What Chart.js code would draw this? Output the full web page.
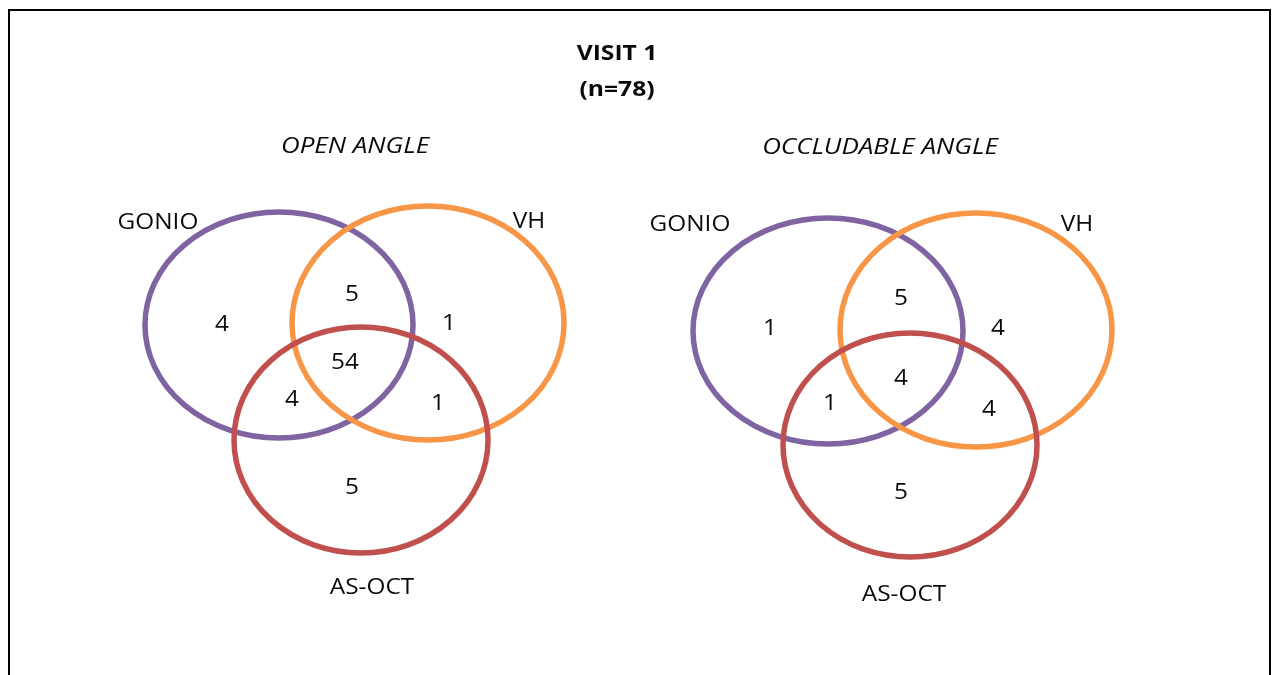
<!DOCTYPE html>
<html>
<head>
<meta charset="utf-8">
<script src="https://cdn.jsdelivr.net/npm/chart.js@4.4.1/dist/chart.umd.min.js"></script>
<style>
  html, body { margin: 0; padding: 0; background: #fff; overflow: hidden; }
  #wrap { position: absolute; left: 0; top: 0; width: 1274px; height: 675px; }
</style>
</head>
<body>
<div id="wrap"><canvas id="venn"></canvas></div>
<script>
// data
var title = ['VISIT 1', '(n=78)'];
var panels = ['OPEN ANGLE', 'OCCLUDABLE ANGLE'];
var sets = ['GONIO', 'VH', 'AS-OCT'];
// regions: G only, G&V, V only, G&V&A, G&A, V&A, A only
var regions = ['G', 'GV', 'V', 'GVA', 'GA', 'VA', 'A'];
var openAngle = [4, 5, 1, 54, 4, 1, 5];
var occludableAngle = [1, 5, 4, 4, 1, 4, 5];
var counts = [openAngle, occludableAngle];

// layout (page units, y down)
var setColors = ['#8064A2', '#F79646', '#C0504D'];
var ellipses = [
  [[279, 325, 134, 113], [428, 323, 136, 117], [361, 440, 127, 113]],
  [[828, 331, 135, 113], [976, 330, 136, 117], [910, 445, 127, 112]]
];
var regionPos = [
  [[222, 325], [352, 295], [449, 324], [345, 363], [292, 400], [438, 404], [352, 488]],
  [[770, 329], [901, 299], [998, 329], [901, 379], [830, 404], [989, 410], [901, 493]]
];
var setLabelPos = [
  [[158, 223], [529, 222], [372, 588]],
  [[690, 225], [1077, 225], [904, 595]]
];
var panelTitlePos = [[355, 147], [880, 148]];
var titlePos = [[617, 54], [617, 90]];

var FONT = '"Open Sans", sans-serif';
var STRETCH = 1.16;

var vennPlugin = {
  id: 'venn',
  beforeDatasetsDraw: function(chart) {
    var ctx = chart.ctx, xs = chart.scales.x, ys = chart.scales.y;
    ctx.save();
    // frame
    ctx.strokeStyle = '#000';
    ctx.lineWidth = 2;
    ctx.beginPath();
    ctx.moveTo(xs.getPixelForValue(9), ys.getPixelForValue(700));
    ctx.lineTo(xs.getPixelForValue(9), ys.getPixelForValue(10));
    ctx.lineTo(xs.getPixelForValue(1270), ys.getPixelForValue(10));
    ctx.lineTo(xs.getPixelForValue(1270), ys.getPixelForValue(700));
    ctx.stroke();
    // ellipses
    ctx.lineWidth = 5.5;
    for (var p = 0; p < ellipses.length; p++) {
      for (var s = 0; s < ellipses[p].length; s++) {
        var e = ellipses[p][s];
        var cx = xs.getPixelForValue(e[0]), cy = ys.getPixelForValue(e[1]);
        var rx = Math.abs(xs.getPixelForValue(e[0] + e[2]) - cx);
        var ry = Math.abs(ys.getPixelForValue(e[1] + e[3]) - cy);
        ctx.strokeStyle = setColors[s];
        ctx.beginPath();
        ctx.ellipse(cx, cy, rx, ry, 0, 0, Math.PI * 2);
        ctx.stroke();
      }
    }
    ctx.restore();
  },
  afterDatasetsDraw: function(chart) {
    var ctx = chart.ctx, xs = chart.scales.x, ys = chart.scales.y;
    ctx.save();
    ctx.fillStyle = '#0a0a0a';
    ctx.textAlign = 'center';
    ctx.textBaseline = 'middle';
    // source figure text is a bit wider than the font, stretch it sideways
    function text(txt, px, py, font, k) {
      ctx.save();
      ctx.font = font;
      ctx.translate(px, py);
      ctx.scale(k || STRETCH, 1);
      ctx.fillText(txt, 0, 0);
      ctx.restore();
    }
    function put(txt, pos, font, k) {
      text(txt, xs.getPixelForValue(pos[0]), ys.getPixelForValue(pos[1]), font, k);
    }
    put(title[0], titlePos[0], 'bold 22px ' + FONT, 1.12);
    put(title[1], titlePos[1], 'bold 22px ' + FONT, 1.12);
    for (var p = 0; p < panels.length; p++) {
      put(panels[p], panelTitlePos[p], 'italic 22px ' + FONT, 1.18);
      for (var s = 0; s < sets.length; s++) {
        put(sets[s], setLabelPos[p][s], '21px ' + FONT);
      }
    }
    // region counts from the dataset points
    chart.data.datasets.forEach(function(ds, di) {
      var meta = chart.getDatasetMeta(di);
      meta.data.forEach(function(pt, i) {
        text(String(ds.data[i].v), pt.x, pt.y, '21px ' + FONT);
      });
    });
    ctx.restore();
  }
};

var datasets = panels.map(function(name, p) {
  return {
    label: name,
    data: regions.map(function(r, i) {
      return { x: regionPos[p][i][0], y: regionPos[p][i][1], v: counts[p][i] };
    }),
    pointRadius: 0,
    pointHoverRadius: 0
  };
});

new Chart(document.getElementById('venn'), {
  type: 'scatter',
  data: { datasets: datasets },
  options: {
    responsive: true,
    maintainAspectRatio: false,
    animation: false,
    layout: { padding: 0 },
    plugins: { legend: { display: false }, tooltip: { enabled: false } },
    scales: {
      x: { type: 'linear', min: 0, max: 1274, display: false },
      y: { type: 'linear', min: 0, max: 675, reverse: true, display: false }
    }
  },
  plugins: [vennPlugin]
});
</script>
</body>
</html>
